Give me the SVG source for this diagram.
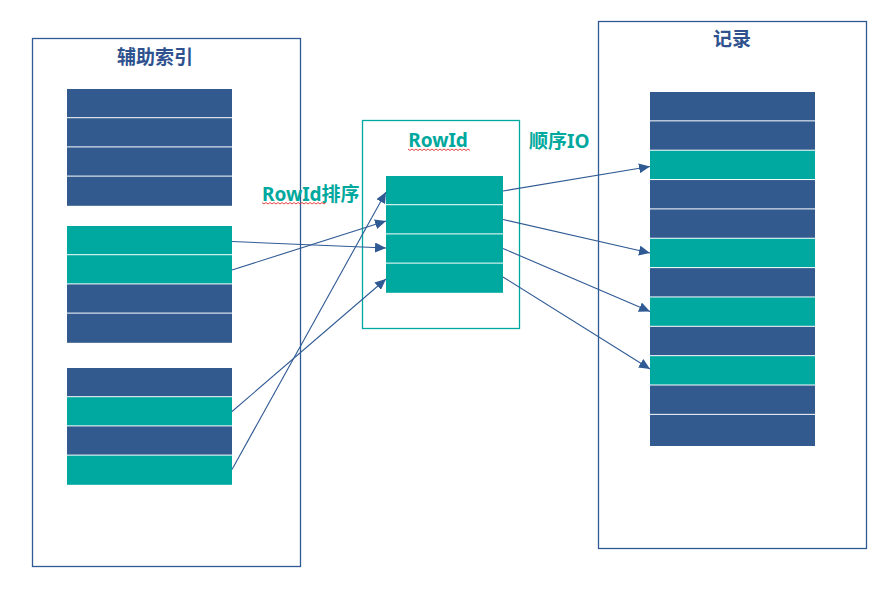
<svg xmlns="http://www.w3.org/2000/svg" width="889" height="605" viewBox="0 0 889 605">
<style>
.frame{fill:#fff;stroke:#2F5A94;stroke-width:1.3}
.frameT{fill:#fff;stroke:#00A9A0;stroke-width:1.3}
.b{fill:#325A8E}
.t{fill:#00A9A0}
.ttl{font-family:"Noto Sans CJK SC","Noto Sans",sans-serif;font-weight:bold;font-size:19px;fill:#2F528F}
.lbl{font-family:"Noto Sans","Noto Sans CJK SC",sans-serif;font-weight:bold;font-size:19px;fill:#00A89D}
.conn{stroke:#2F5A94;stroke-width:1.1;fill:none}
.sq{stroke:#E03030;stroke-width:0.9;fill:none}
</style>
<defs>
<marker id="ah" markerWidth="12" markerHeight="10" refX="11" refY="5" orient="auto" markerUnits="userSpaceOnUse">
<path d="M0,0 L11,5 L0,10 Z" fill="#2F5A94"/>
</marker>
</defs>
<rect width="889" height="605" fill="#fff"/>

<g id="aux-index">
<rect class="frame" x="32.5" y="38.5" width="268" height="528"/>
<text class="ttl" x="155" y="64" text-anchor="middle">辅助索引</text>
<rect class="b" x="67" y="89" width="165" height="28.2"/>
<rect class="b" x="67" y="118.2" width="165" height="28.2"/>
<rect class="b" x="67" y="147.4" width="165" height="28.2"/>
<rect class="b" x="67" y="176.6" width="165" height="29.2"/>
<rect class="t" x="67" y="226" width="165" height="28.2"/>
<rect class="t" x="67" y="255.2" width="165" height="28.2"/>
<rect class="b" x="67" y="284.4" width="165" height="28.2"/>
<rect class="b" x="67" y="313.6" width="165" height="29.2"/>
<rect class="b" x="67" y="368" width="165" height="28.2"/>
<rect class="t" x="67" y="397.2" width="165" height="28.2"/>
<rect class="b" x="67" y="426.4" width="165" height="28.2"/>
<rect class="t" x="67" y="455.6" width="165" height="29.2"/>
</g>

<g id="rowid">
<rect class="frameT" x="362.5" y="120.5" width="157" height="208"/>
<text class="lbl" x="438" y="147" text-anchor="middle">RowId</text>
<path class="sq" d="M408,149 l2,1.5 l2,-1.5 l2,1.5 l2,-1.5 l2,1.5 l2,-1.5 l2,1.5 l2,-1.5 l2,1.5 l2,-1.5 l2,1.5 l2,-1.5 l2,1.5 l2,-1.5 l2,1.5 l2,-1.5 l2,1.5 l2,-1.5 l2,1.5 l2,-1.5 l2,1.5 l2,-1.5 l2,1.5 l2,-1.5 l2,1.5 l2,-1.5 l2,1.5 l2,-1.5 l2,1.5 l2,-1.5 l2,1.5"/>
<rect class="t" x="386" y="176" width="117" height="28.2"/>
<rect class="t" x="386" y="205.2" width="117" height="28.2"/>
<rect class="t" x="386" y="234.4" width="117" height="28.2"/>
<rect class="t" x="386" y="263.6" width="117" height="29.2"/>
</g>

<g id="records">
<rect class="frame" x="598.5" y="21.5" width="268" height="527"/>
<text class="ttl" x="732" y="46" text-anchor="middle">记录</text>
<rect class="b" x="650" y="92" width="165" height="28.35"/>
<rect class="b" x="650" y="121.35" width="165" height="28.35"/>
<rect class="t" x="650" y="150.7" width="165" height="28.35"/>
<rect class="b" x="650" y="180.05" width="165" height="28.35"/>
<rect class="b" x="650" y="209.4" width="165" height="28.35"/>
<rect class="t" x="650" y="238.75" width="165" height="28.35"/>
<rect class="b" x="650" y="268.1" width="165" height="28.35"/>
<rect class="t" x="650" y="297.45" width="165" height="28.35"/>
<rect class="b" x="650" y="326.8" width="165" height="28.35"/>
<rect class="t" x="650" y="356.15" width="165" height="28.35"/>
<rect class="b" x="650" y="385.5" width="165" height="28.35"/>
<rect class="b" x="650" y="414.85" width="165" height="31.15"/>
</g>

<g id="label-sort">
<text class="lbl" x="262" y="200.5">RowId排序</text>
<path class="sq" d="M262,202.5 l2,1.5 l2,-1.5 l2,1.5 l2,-1.5 l2,1.5 l2,-1.5 l2,1.5 l2,-1.5 l2,1.5 l2,-1.5 l2,1.5 l2,-1.5 l2,1.5 l2,-1.5 l2,1.5 l2,-1.5 l2,1.5 l2,-1.5 l2,1.5 l2,-1.5 l2,1.5 l2,-1.5 l2,1.5 l2,-1.5 l2,1.5 l2,-1.5 l2,1.5 l2,-1.5 l2,1.5 l2,-1.5 l2,1.5 l2,-1.5"/>
</g>
<g id="label-io">
<text class="lbl" x="529" y="148">顺序IO</text>
</g>

<g id="connectors">
<line class="conn" x1="232" y1="241.5" x2="386" y2="248" marker-end="url(#ah)"/>
<line class="conn" x1="232" y1="270" x2="386" y2="221" marker-end="url(#ah)"/>
<line class="conn" x1="232" y1="411.5" x2="386" y2="279" marker-end="url(#ah)"/>
<line class="conn" x1="232" y1="469.5" x2="386" y2="192" marker-end="url(#ah)"/>
<line class="conn" x1="503" y1="191" x2="650" y2="166.5" marker-end="url(#ah)"/>
<line class="conn" x1="503" y1="219.5" x2="650" y2="253" marker-end="url(#ah)"/>
<line class="conn" x1="503" y1="248.5" x2="650" y2="311.5" marker-end="url(#ah)"/>
<line class="conn" x1="503" y1="277" x2="650" y2="369" marker-end="url(#ah)"/>
</g>
</svg>
